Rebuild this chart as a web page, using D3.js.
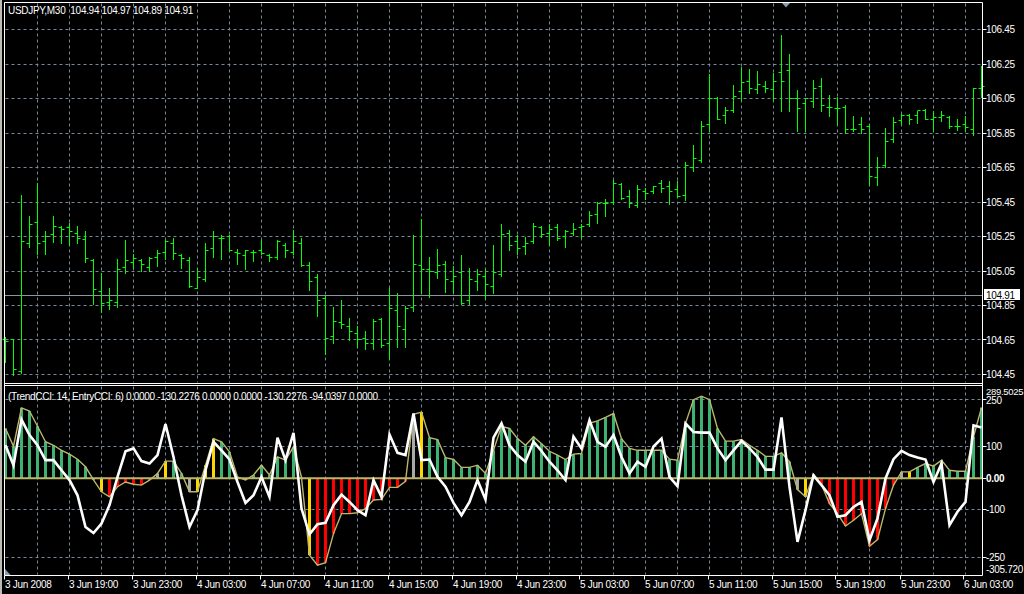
<!DOCTYPE html>
<html><head><meta charset="utf-8">
<script src="https://cdn.jsdelivr.net/npm/d3@7"></script>
<style>
html,body{margin:0;padding:0;background:#000;}
svg{display:block;}
text{font-family:"Liberation Sans",Arial,sans-serif;font-size:10px;fill:#fff;letter-spacing:-0.3px;white-space:pre;}
</style></head><body>
<svg id="c" width="1024" height="594"></svg>
<script>
// ---------- data ----------
const symbolTitle = "USDJPY,M30\u00a0\u00a0104.94 104.97 104.89 104.91";
const indicatorTitle = "(TrendCCI: 14, EntryCCI: 6) 0.0000 -130.2276 0.0000 0.0000 -130.2276 -94.0397 0.0000";

const openPrices = [
104.65,104.65,104.47,105.21,105.33,105.22,105.26,105.30,105.30,105.27,
105.23,105.11,104.93,104.87,104.87,105.07,105.10,105.11,105.07,105.13,
105.16,105.21,105.14,105.11,104.95,105.00,105.18,105.24,105.25,105.16,
105.14,105.16,105.17,105.14,105.13,105.20,105.16,105.21,105.08,105.01,
104.89,104.67,104.75,104.73,104.69,104.66,104.63,104.77,104.63,104.82,
104.71,104.84,105.08,105.06,105.04,105.09,104.99,105.04,104.88,104.99,
105.02,104.96,105.03,105.27,105.22,105.19,105.22,105.30,105.27,105.30,
105.25,105.27,105.30,105.32,105.38,105.44,105.45,105.55,105.48,105.43,
105.51,105.51,105.56,105.54,105.52,105.49,105.65,105.69,105.90,106.05,
105.95,105.98,106.09,106.15,106.10,106.12,106.10,106.20,106.21,106.05,
106.02,106.03,106.12,106.00,105.99,106.00,105.87,105.90,105.89,105.59,
105.66,105.81,105.92,105.95,105.95,105.98,105.93,105.94,105.94,105.89,
105.90,105.87,106.11];
const highPrices = [
104.67,104.65,105.49,105.37,105.56,105.28,105.37,105.31,105.33,105.31,
105.28,105.12,105.04,104.95,105.12,105.23,105.15,105.12,105.13,105.17,
105.23,105.24,105.15,105.13,105.07,105.21,105.28,105.26,105.26,105.18,
105.17,105.17,105.23,105.15,105.23,105.21,105.29,105.24,105.10,105.03,
104.91,104.84,104.88,104.78,104.73,104.70,104.77,104.78,104.95,104.92,
104.85,105.26,105.35,105.13,105.18,105.11,105.08,105.14,105.07,105.06,
105.06,105.20,105.32,105.29,105.26,105.25,105.33,105.31,105.32,105.32,
105.29,105.33,105.32,105.40,105.45,105.47,105.58,105.56,105.52,105.55,
105.53,105.54,105.58,105.57,105.57,105.68,105.78,105.92,106.19,106.06,
106.00,106.13,106.23,106.22,106.21,106.15,106.20,106.42,106.31,106.10,
106.05,106.16,106.17,106.07,106.06,106.01,105.95,105.94,105.90,105.71,
105.88,105.94,105.96,105.96,105.98,105.99,105.98,105.98,105.95,105.93,
105.95,106.11,106.24];
const lowPrices = [
104.52,104.45,104.46,105.19,105.15,105.15,105.22,105.21,105.20,105.21,
105.10,104.86,104.81,104.83,104.84,105.04,105.07,105.05,105.05,105.08,
105.12,105.12,105.07,104.96,104.95,104.99,105.13,105.12,105.17,105.09,
105.06,105.11,105.15,105.11,105.12,105.13,105.15,105.08,104.94,104.79,
104.57,104.63,104.72,104.65,104.61,104.60,104.60,104.61,104.54,104.61,
104.61,104.82,104.92,104.90,105.01,104.93,104.93,104.86,104.86,104.94,
104.89,104.92,105.02,105.17,105.15,105.15,105.21,105.25,105.20,105.23,
105.19,105.26,105.24,105.31,105.33,105.37,105.44,105.47,105.42,105.42,
105.47,105.50,105.51,105.44,105.48,105.46,105.63,105.68,105.86,105.93,
105.91,105.97,106.04,106.08,106.08,106.09,106.04,105.98,105.98,105.86,
105.86,106.00,105.98,105.95,105.90,105.85,105.86,105.85,105.55,105.55,
105.65,105.80,105.90,105.90,105.91,105.93,105.86,105.92,105.88,105.87,
105.86,105.84,106.06];
const closePrices = [
104.64,104.48,105.22,105.32,105.21,105.25,105.31,105.29,105.28,105.24,
105.12,104.94,104.86,104.88,105.06,105.11,105.12,105.09,105.12,105.15,
105.22,105.15,105.12,104.96,105.01,105.17,105.25,105.24,105.17,105.15,
105.17,105.16,105.15,105.13,105.22,105.17,105.22,105.08,104.99,104.88,
104.66,104.76,104.74,104.70,104.65,104.63,104.76,104.62,104.83,104.73,
104.83,105.09,105.06,105.05,105.08,105.00,105.02,104.86,105.00,105.03,
104.97,105.04,105.26,105.20,105.18,105.21,105.31,105.26,105.29,105.24,
105.28,105.29,105.31,105.37,105.44,105.44,105.56,105.47,105.44,105.52,
105.50,105.54,105.53,105.51,105.48,105.66,105.70,105.89,106.05,105.93,
105.98,106.06,106.14,106.11,106.13,106.11,106.15,106.15,106.05,105.99,
106.05,106.11,106.01,106.00,105.99,105.87,105.87,105.87,105.60,105.65,
105.80,105.91,105.95,105.93,105.98,105.93,105.94,105.95,105.89,105.89,
105.88,106.11,106.12];

const trendCCI = [
157,101,222,212,164,115,104,88,76,60,
36,-5,-43,-59,-27,-12,-19,-22,-6,15,
54,54,15,-43,-43,41,125,115,83,4,
-6,10,41,10,67,57,99,3,-243,-275,
-267,-175,-112,-112,-109,-96,-69,-67,-29,-29,
-10,202,209,128,122,65,59,34,34,41,
15,88,164,157,125,104,131,109,85,73,
59,76,78,173,181,192,204,125,94,88,
88,88,88,60,57,173,248,259,248,157,
117,117,122,104,88,69,69,80,52,-36,
-59,12,-20,-80,-112,-151,-133,-112,-215,-194,
-96,-22,20,20,34,46,38,57,25,22,
22,131,223];
const entryCCI = [
104,41,185,136,104,57,57,25,-6,-54,
-154,-173,-143,-85,4,85,94,54,46,73,
171,67,-54,-154,-101,25,115,88,59,-12,
-78,-54,4,-59,128,57,143,-96,-177,-145,
-141,-85,-52,-75,-101,-117,-6,-59,138,80,
73,204,57,59,4,-27,-78,-117,-75,-6,
-67,128,173,104,73,52,115,86,52,25,
-6,131,94,183,115,99,136,67,15,52,
36,100,125,4,-25,173,146,144,144,94,
57,88,118,94,67,27,27,192,-27,-201,
-101,9,-22,-54,-122,-117,-91,-75,-196,-127,
-1,60,86,73,65,59,-12,46,-148,-106,
-75,167,160];
// trend state per bar: g = up trend, r = down trend, y = transition, n = no trend
const trendState = (
"gggggggggg"+"gnyrrrrrrn"+"yggnyyyggg"+"ngggggggyr"+"rrrrrrrrrr"+
"rnyggggggg"+"gggggggggg"+"gggggggggg"+"gggggggggg"+"gggggggggn"+
"ynrrrrrrrr"+"rrnygggggg"+"ggg").split("");

const priceTicks = [106.45,106.25,106.05,105.85,105.65,105.45,105.25,105.05,104.85,104.65,104.45];
const currentPrice = 104.91;
const cciGrid = [250,100,-100,-250];
const cciMax = 289.5025, cciMin = -305.72;
const cciLabels = ["289.5025","250","100","0.00","-100","-250","-305.720"];
const cciLabelValues = [289.5025,250,100,0,-100,-250,-305.72];
const timeLabels = ["3 Jun 2008","3 Jun 19:00","3 Jun 23:00","4 Jun 03:00","4 Jun 07:00","4 Jun 11:00",
"4 Jun 15:00","4 Jun 19:00","4 Jun 23:00","5 Jun 03:00","5 Jun 07:00","5 Jun 11:00","5 Jun 15:00",
"5 Jun 19:00","5 Jun 23:00","6 Jun 03:00"];
const timeLabelBars = [0,8,16,24,32,40,48,56,64,72,80,88,96,104,112,120];

// ---------- layout ----------
const L = 4.5, R = 982.5, mainTop = 2.5, mainBot = 383.5, indTop = 385.5, indBot = 575.5;
const nBars = closePrices.length;
const stateColor = {g:"#3cb371", r:"#ff0000", y:"#ffd700", n:"#a9a9a9"};
const gridColor = "#778899";
const khaki = "#bdb76b";

const svg = d3.select("#c");
svg.append("rect").attr("width",1024).attr("height",594).attr("fill","#000");
svg.append("rect").attr("x",0).attr("y",0).attr("width",2).attr("height",594).attr("fill","#bdbab3");

const x = d3.scaleLinear().domain([0, nBars-1]).range([5.5, 5.5 + 8*(nBars-1)]);
const yP = d3.scaleLinear().domain([104.45,106.45]).range([374.5, 29.5]);
const yC = d3.scaleLinear().domain([cciMin, cciMax]).range([575, 386.5]);
const px = v => Math.round(v - 0.5) + 0.5;

// ---------- grids ----------
const vIdx = d3.range(4, nBars, 4);
const g = svg.append("g").attr("stroke", gridColor).attr("stroke-dasharray","3,3").attr("stroke-width",1);
vIdx.forEach(i => {
  g.append("line").attr("x1",px(x(i))).attr("x2",px(x(i))).attr("y1",mainTop+1).attr("y2",mainBot-1);
  g.append("line").attr("x1",px(x(i))).attr("x2",px(x(i))).attr("y1",indTop+1).attr("y2",indBot-1);
});
priceTicks.forEach(p => g.append("line").attr("x1",L+1).attr("x2",R).attr("y1",px(yP(p))).attr("y2",px(yP(p))));
cciGrid.forEach(v => g.append("line").attr("x1",L+1).attr("x2",R).attr("y1",px(yC(v))).attr("y2",px(yC(v))));

// current price line
svg.append("line").attr("x1",L).attr("x2",R).attr("y1",px(yP(currentPrice))).attr("y2",px(yP(currentPrice)))
  .attr("stroke","#8a96a3").attr("stroke-width",1);

// ---------- OHLC bars ----------
const bars = svg.append("g").attr("stroke","#00ff00").attr("stroke-width",1).attr("fill","none");
for (let i = 0; i < nBars; i++) {
  const xi = px(x(i));
  const h = Math.round(yP(highPrices[i])), l = Math.round(yP(lowPrices[i]));
  const o = px(yP(openPrices[i])), c = px(yP(closePrices[i]));
  bars.append("path").attr("d",
    `M${xi},${h}V${l+1}M${xi-3},${o}H${xi}M${xi},${c}H${xi+3}`);
}

// ---------- indicator ----------
const y0 = yC(0);
const hist = svg.append("g");
for (let i = 0; i < nBars; i++) {
  const yv = yC(trendCCI[i]);
  hist.append("rect").attr("x", x(i)-1.5).attr("width",3)
    .attr("y", Math.min(yv,y0)).attr("height", Math.abs(yv-y0))
    .attr("fill", stateColor[trendState[i]]);
}
svg.append("line").attr("x1",L).attr("x2",R).attr("y1",y0).attr("y2",y0).attr("stroke",khaki).attr("stroke-width",2);
const idx = d3.range(nBars);
svg.append("path").datum(idx)
  .attr("d", d3.line().x(i => x(i)).y(i => yC(trendCCI[i])))
  .attr("fill","none").attr("stroke",khaki).attr("stroke-width",1.4);
svg.append("path").datum(idx)
  .attr("d", d3.line().x(i => x(i)).y(i => yC(entryCCI[i])))
  .attr("fill","none").attr("stroke","#ffffff").attr("stroke-width",2.6).attr("stroke-linejoin","miter");

// ---------- frames ----------
const fr = svg.append("g").attr("stroke","#ffffff").attr("stroke-width",1).attr("fill","none");
fr.append("path").attr("d",`M${L},${mainTop}H${R}V${indBot}H${L}Z`);
fr.append("line").attr("x1",L).attr("x2",R).attr("y1",mainBot).attr("y2",mainBot);
fr.append("line").attr("x1",L).attr("x2",R).attr("y1",indTop).attr("y2",indTop);

// shift marker & corner marker
svg.append("polygon").attr("points","782,3 790,3 786,7.5").attr("fill","#8a9ab0");
svg.append("polygon").attr("points","5,569 5,575 10.5,575").attr("fill","#8a9ab0");

// ---------- price axis ----------
const pa = svg.append("g");
priceTicks.forEach(p => {
  pa.append("line").attr("x1",R).attr("x2",R+4).attr("y1",px(yP(p))).attr("y2",px(yP(p))).attr("stroke","#fff");
  pa.append("text").attr("x",986).attr("y",yP(p)).attr("dy","0.36em").text(d3.format(".2f")(p));
});
const cp = yP(currentPrice);
svg.append("rect").attr("x",984).attr("y",Math.round(cp)-6).attr("width",36).attr("height",11).attr("fill","#fff");
svg.append("text").attr("x",986).attr("y",cp).attr("dy","0.36em").style("fill","#000").text(d3.format(".2f")(currentPrice));

// ---------- CCI axis ----------
cciLabels.forEach((t,k) => {
  const v = cciLabelValues[k];
  let yy = yC(v);
  let fs = 10;
  let dy = "0.36em";
  if (k === 0) { dy = "0.85em"; fs = 9.5; }
  if (k === 1) { yy += 1.5; }
  if (k === cciLabels.length-1) dy = "-0.25em";
  if (k > 0 && k < cciLabels.length-1)
    svg.append("line").attr("x1",R).attr("x2",R+4).attr("y1",px(yC(v))).attr("y2",px(yC(v))).attr("stroke","#fff");
  svg.append("text").attr("x",986).attr("y",yy).attr("dy",dy)
    .style("font-size", fs + "px")
    .style("font-weight", v === 0 ? "bold" : "normal").text(t);
});

// ---------- time axis ----------
timeLabelBars.forEach((b,k) => {
  const tx = Math.round(x(b)) - 1.5;
  svg.append("line").attr("x1",tx).attr("x2",tx).attr("y1",indBot).attr("y2",indBot+4).attr("stroke","#fff");
  svg.append("text").attr("x",tx+0.5).attr("y",588).text(timeLabels[k]);
});

// ---------- titles ----------
svg.append("text").attr("x",8).attr("y",14).text(symbolTitle);
svg.append("text").attr("x",8).attr("y",399.5).text(indicatorTitle);
</script>
</body></html>
